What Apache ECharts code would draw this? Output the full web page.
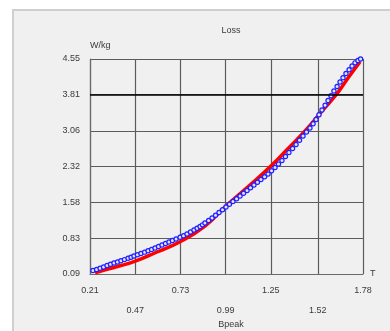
<!DOCTYPE html>
<html><head><meta charset="utf-8">
<script src="https://cdn.jsdelivr.net/npm/echarts@6/dist/echarts.min.js"></script>
<style>html,body{margin:0;padding:0;background:#fff}#c{width:390px;height:331px}</style>
</head><body><div id="c"></div>
<script>
const chartTitle = 'Loss';
const xName = 'Bpeak';
const xUnit = 'T';
const yUnit = 'W/kg';
const xTicks = [0.21, 0.47, 0.73, 0.99, 1.25, 1.52, 1.78];
const xTicksLowerRow = [0.47, 0.99, 1.52];
const yTicks = [0.09, 0.83, 1.58, 2.32, 3.06, 3.81, 4.55];
const refLevel = 3.81;

const redB    = [0.239, 0.308, 0.383, 0.463, 0.595, 0.728, 0.871, 0.992, 1.130, 1.255, 1.341, 1.456, 1.544, 1.629, 1.694, 1.763];
const redLoss = [0.117, 0.187, 0.260, 0.345, 0.546, 0.760, 1.085, 1.500, 1.935, 2.345, 2.662, 3.092, 3.470, 3.824, 4.156, 4.494];

const blueB    = [0.227, 0.248, 0.268, 0.288, 0.308, 0.328, 0.348, 0.368, 0.388, 0.408, 0.429, 0.446, 0.463, 0.483, 0.503, 0.524, 0.544, 0.564, 0.584, 0.604, 0.624, 0.644, 0.664, 0.684, 0.705, 0.728, 0.748, 0.768, 0.788, 0.808, 0.826, 0.843, 0.857, 0.871, 0.892, 0.912, 0.932, 0.952, 0.972, 0.992, 1.012, 1.032, 1.053, 1.073, 1.093, 1.113, 1.133, 1.153, 1.173, 1.193, 1.214, 1.234, 1.254, 1.274, 1.294, 1.314, 1.334, 1.354, 1.375, 1.395, 1.415, 1.435, 1.455, 1.475, 1.493, 1.510, 1.527, 1.544, 1.562, 1.579, 1.596, 1.613, 1.631, 1.648, 1.665, 1.682, 1.700, 1.717, 1.734, 1.751, 1.766];
const blueLoss = [0.163, 0.185, 0.208, 0.236, 0.266, 0.292, 0.318, 0.340, 0.364, 0.389, 0.416, 0.439, 0.463, 0.489, 0.515, 0.543, 0.571, 0.600, 0.629, 0.660, 0.692, 0.723, 0.754, 0.785, 0.816, 0.853, 0.885, 0.920, 0.961, 1.003, 1.039, 1.075, 1.110, 1.148, 1.200, 1.252, 1.308, 1.366, 1.423, 1.480, 1.537, 1.594, 1.651, 1.708, 1.765, 1.822, 1.879, 1.936, 1.993, 2.050, 2.107, 2.164, 2.230, 2.299, 2.370, 2.445, 2.526, 2.610, 2.692, 2.776, 2.863, 2.953, 3.036, 3.119, 3.206, 3.295, 3.392, 3.492, 3.590, 3.689, 3.788, 3.886, 3.980, 4.073, 4.162, 4.249, 4.328, 4.405, 4.470, 4.520, 4.550];

const FONT = 'Liberation Sans';
const TXT = '#3a3a3a';
const chart = echarts.init(document.getElementById('c'), null, {renderer: 'canvas'});
chart.setOption({
  animation: false,
  backgroundColor: '#ffffff',
  graphic: [{
    type: 'rect', z: -100, silent: true,
    shape: {x: 13, y: 10, width: 420, height: 360},
    style: {fill: '#f0f0f0', stroke: '#cfcfcf', lineWidth: 2}
  }],
  title: [
    {text: chartTitle, left: 226, top: 21, textAlign: 'center',
     textStyle: {fontFamily: FONT, fontSize: 9, fontWeight: 'normal', color: TXT}},
    {text: xName, left: 226, top: 315, textAlign: 'center',
     textStyle: {fontFamily: FONT, fontSize: 9, fontWeight: 'normal', color: TXT}}
  ],
  grid: {left: 90, right: 27, top: 59, bottom: 57, containLabel: false},
  xAxis: {
    type: 'value', min: xTicks[0], max: xTicks[xTicks.length - 1],
    name: xUnit, nameLocation: 'end', nameGap: 7,
    nameTextStyle: {fontFamily: FONT, fontSize: 9, color: TXT, padding: [0, 0, 6, 0]},
    axisLine: {show: true, lineStyle: {color: '#6a6a6a', width: 1.2}},
    axisTick: {show: false, customValues: xTicks},
    axisLabel: {
      customValues: xTicks, fontFamily: FONT, fontSize: 9, color: TXT, margin: 7, lineHeight: 20,
      formatter: v => {
        const s = v.toFixed(2);
        return xTicksLowerRow.some(t => Math.abs(t - v) < 1e-6) ? '\n' + s : s;
      }
    },
    splitLine: {show: true, lineStyle: {color: '#5c5c5c', width: 1.2}}
  },
  yAxis: {
    type: 'value', min: yTicks[0], max: yTicks[yTicks.length - 1],
    name: yUnit, nameLocation: 'end', nameGap: 9,
    nameTextStyle: {fontFamily: FONT, fontSize: 9, color: TXT, align: 'left'},
    axisLine: {show: true, lineStyle: {color: '#6a6a6a', width: 1.2}},
    axisTick: {show: false, customValues: yTicks},
    axisLabel: {customValues: yTicks, fontFamily: FONT, fontSize: 9, color: TXT, margin: 10,
      formatter: v => v.toFixed(2)},
    splitLine: {show: true, lineStyle: {color: '#5c5c5c', width: 1.2}}
  },
  series: [
    {
      type: 'line', name: 'measured', smooth: true, showSymbol: false, z: 3,
      data: redB.map((b, i) => [b, redLoss[i]]),
      lineStyle: {color: '#ff0000', width: 3.5},
      markLine: {
        silent: true, symbol: 'none', label: {show: false},
        lineStyle: {color: '#000000', width: 1.6, type: 'solid'},
        data: [{yAxis: refLevel}]
      }
    },
    {
      type: 'scatter', name: 'model', z: 4, symbol: 'circle', symbolSize: 4.2,
      data: blueB.map((b, i) => [b, blueLoss[i]]),
      itemStyle: {color: '#e4e4ff', borderColor: '#1f1fff', borderWidth: 1.2, opacity: 1}
    }
  ]
});
</script></body></html>
